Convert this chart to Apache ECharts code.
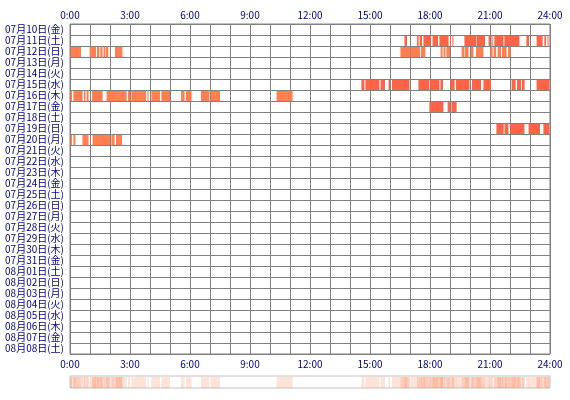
<!DOCTYPE html>
<html>
<head>
<meta charset="utf-8">
<script src="https://cdn.jsdelivr.net/npm/echarts@6/dist/echarts.min.js"></script>
<style>
  html, body { margin: 0; padding: 0; background: #fff; }
  #chart { width: 570px; height: 400px; }
</style>
</head>
<body>
<div id="chart"></div>
<script>
// 日付ラベル（上から順）
var days = [
  "07月10日(金)", "07月11日(土)", "07月12日(日)", "07月13日(月)", "07月14日(火)",
  "07月15日(水)", "07月16日(木)", "07月17日(金)", "07月18日(土)", "07月19日(日)",
  "07月20日(月)", "07月21日(火)", "07月22日(水)", "07月23日(木)", "07月24日(金)",
  "07月25日(土)", "07月26日(日)", "07月27日(月)", "07月28日(火)", "07月29日(水)",
  "07月30日(木)", "07月31日(金)", "08月01日(土)", "08月02日(日)", "08月03日(月)",
  "08月04日(火)", "08月05日(水)", "08月06日(木)", "08月07日(金)", "08月08日(土)"
];

// 各日の稼働区間 [開始時, 終了時]
var jul11 = [[16.72, 16.85], [17.35, 17.43], [17.48, 17.6], [17.67, 18.05], [18.13, 18.4],
  [18.47, 18.93], [19.0, 19.05], [19.12, 19.15], [19.72, 20.3], [20.33, 20.75],
  [20.93, 21.0], [21.07, 21.13], [21.22, 21.67], [21.72, 22.47], [22.82, 22.95],
  [23.33, 23.63], [23.72, 23.8], [23.88, 23.93]];
var jul12 = [[0.03, 0.55], [0.98, 1.3], [1.35, 1.47], [1.52, 1.63], [1.68, 1.77],
  [1.8, 1.92], [2.25, 2.62], [16.52, 17.0], [17.03, 17.5], [17.55, 17.77],
  [18.53, 18.63], [18.68, 18.77], [18.82, 19.0], [19.58, 19.72], [19.75, 19.93],
  [20.05, 20.17], [20.3, 20.67], [21.02, 21.13], [21.18, 21.3], [21.38, 21.55],
  [21.6, 21.83], [21.9, 22.03]];
var jul15 = [[14.57, 14.72], [14.77, 15.47], [15.53, 15.75], [15.93, 16.0], [16.1, 16.97],
  [17.42, 17.97], [18.02, 18.47], [18.52, 18.65], [19.02, 19.23], [19.3, 19.97],
  [20.1, 20.55], [20.67, 21.05], [22.08, 22.28], [22.35, 22.55], [22.6, 22.73],
  [23.33, 23.97]];
var jul16 = [[0.03, 0.1], [0.17, 0.63], [0.7, 0.77], [0.83, 0.93], [1.1, 1.63],
  [1.83, 2.83], [2.9, 3.0], [3.07, 3.8], [3.87, 3.93], [4.07, 4.5], [4.57, 5.0],
  [5.55, 5.73], [5.8, 6.08], [6.55, 6.97], [7.03, 7.5], [10.33, 11.13]];
var jul17 = [[17.97, 18.67], [18.88, 19.0], [19.07, 19.33]];
var jul19 = [[21.32, 21.68], [21.73, 21.92], [22.02, 22.72], [22.93, 23.5], [23.67, 23.97]];
var jul20 = [[0.03, 0.1], [0.17, 0.27], [0.62, 0.93], [1.13, 2.0], [2.07, 2.23], [2.3, 2.6]];

var activity = [
  { day: "07月11日(土)", spans: jul11 },
  { day: "07月12日(日)", spans: jul12 },
  { day: "07月15日(水)", spans: jul15 },
  { day: "07月16日(木)", spans: jul16 },
  { day: "07月17日(金)", spans: jul17 },
  { day: "07月19日(日)", spans: jul19 },
  { day: "07月20日(月)", spans: jul20 }
];

// 色（行ごと）
var tomatoDays = ["07月11日(土)", "07月15日(水)", "07月17日(金)", "07月19日(日)"];
var textColor = "#000080";
var lineColor = "#808080";

var mainData = [];
var stripData = [];
activity.forEach(function (a) {
  var row = days.indexOf(a.day);
  var color = tomatoDays.indexOf(a.day) >= 0 ? "#ff6347" : "#ff7f50";
  a.spans.forEach(function (s) {
    mainData.push({ value: [row, s[0], s[1]], itemStyle: { color: color } });
    stripData.push([0, s[0], s[1]]);
  });
});

function hourLabel(v) {
  return v % 3 === 0 ? v + ":00" : "";
}

var chart = echarts.init(document.getElementById("chart"));
var option = {
  animation: false,
  textStyle: { fontFamily: "Noto Sans CJK JP" },
  grid: [
    { left: 70, right: 20, top: 24, height: 330, show: true, borderColor: lineColor, borderWidth: 1 },
    { left: 70, right: 20, top: 376, height: 12, show: true, borderColor: "#c0c0c0", borderWidth: 1 }
  ],
  xAxis: [
    {
      type: "value", gridIndex: 0, position: "top", min: 0, max: 24, interval: 1,
      axisLine: { show: false }, axisTick: { show: false },
      axisLabel: { formatter: hourLabel, color: textColor, fontSize: 10, margin: 4, showMinLabel: true, showMaxLabel: true },
      splitLine: { show: true, lineStyle: { color: lineColor, width: 1 } }
    },
    {
      type: "value", gridIndex: 0, position: "bottom", min: 0, max: 24, interval: 1,
      axisLine: { show: false }, axisTick: { show: false },
      axisLabel: { formatter: hourLabel, color: textColor, fontSize: 10, margin: 5, showMinLabel: true, showMaxLabel: true },
      splitLine: { show: false }
    },
    {
      type: "value", gridIndex: 1, min: 0, max: 24,
      axisLine: { show: false }, axisTick: { show: false },
      axisLabel: { show: false }, splitLine: { show: false }
    }
  ],
  yAxis: [
    {
      type: "category", gridIndex: 0, data: days, inverse: true,
      axisLine: { show: false }, axisTick: { show: false },
      axisLabel: { color: textColor, fontSize: 10, margin: 6, interval: 0 },
      splitLine: { show: true, interval: 0, lineStyle: { color: lineColor, width: 1 } }
    },
    {
      type: "category", gridIndex: 1, data: [""],
      axisLine: { show: false }, axisTick: { show: false },
      axisLabel: { show: false }, splitLine: { show: false }
    }
  ],
  series: [
    {
      type: "custom", xAxisIndex: 0, yAxisIndex: 0,
      encode: { x: [1, 2], y: 0 },
      renderItem: function (params, api) {
        var row = api.value(0);
        var p0 = api.coord([api.value(1), row]);
        var p1 = api.coord([api.value(2), row]);
        var h = api.size([0, 1])[1];
        return {
          type: "rect",
          shape: { x: p0[0], y: p0[1] - h / 2 + 1, width: Math.max(p1[0] - p0[0], 1), height: h - 1 },
          style: { fill: api.visual("color") }
        };
      },
      data: mainData
    },
    {
      type: "custom", xAxisIndex: 2, yAxisIndex: 1,
      encode: { x: [1, 2], y: 0 },
      renderItem: function (params, api) {
        var p0 = api.coord([api.value(1), 0]);
        var p1 = api.coord([api.value(2), 0]);
        var cs = params.coordSys;
        return {
          type: "rect",
          shape: { x: p0[0], y: cs.y + 1, width: Math.max(p1[0] - p0[0], 1), height: cs.height - 1 },
          style: { fill: "rgba(255,127,80,0.22)" }
        };
      },
      data: stripData
    }
  ]
};
chart.setOption(option);
</script>
</body>
</html>
